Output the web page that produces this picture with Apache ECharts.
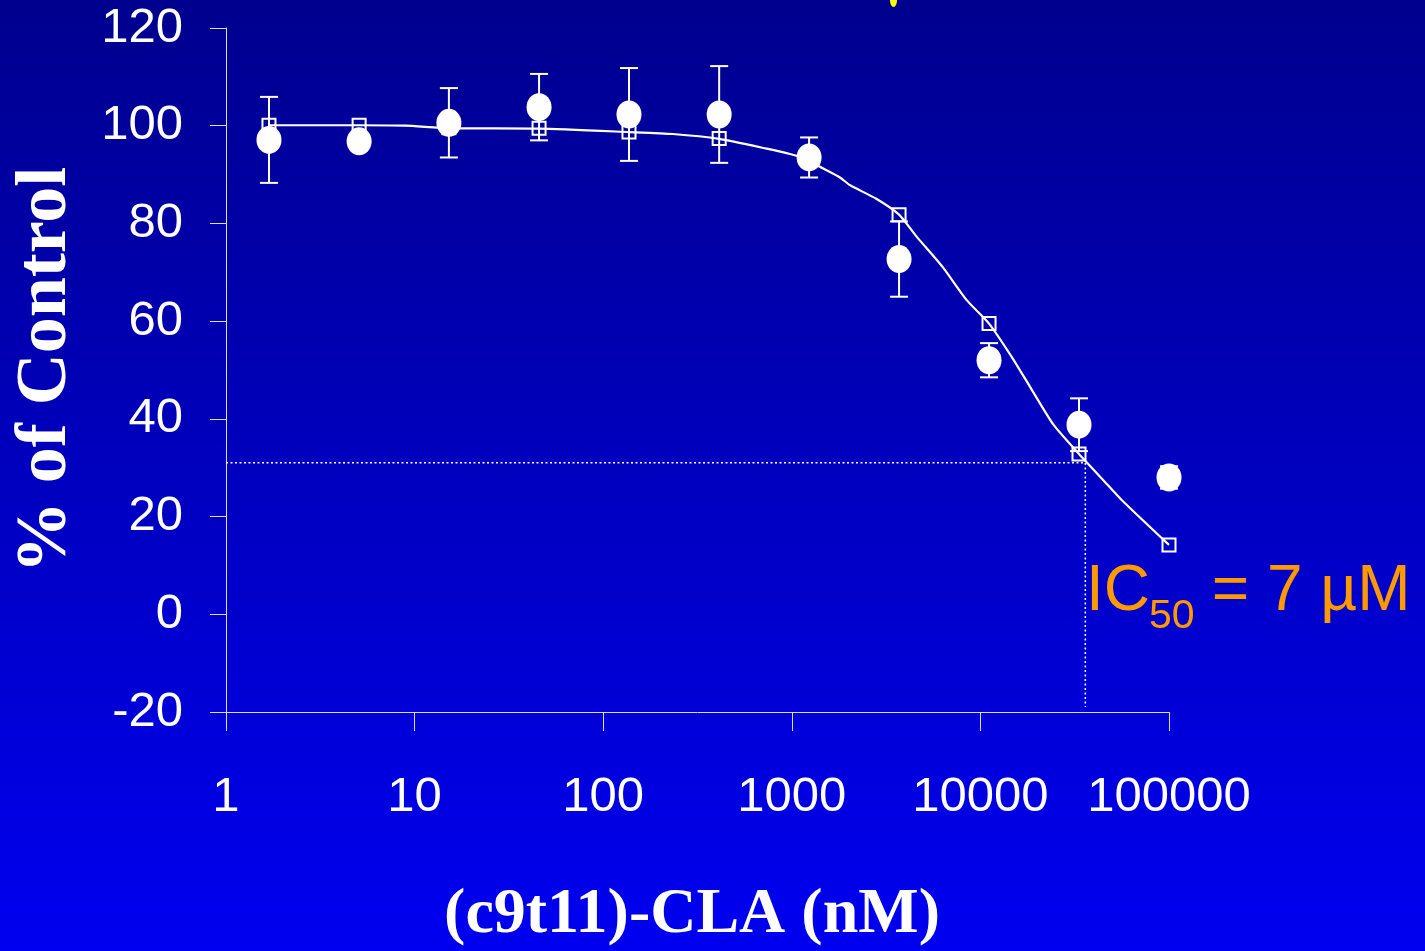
<!DOCTYPE html>
<html>
<head>
<meta charset="utf-8">
<script src="https://cdn.jsdelivr.net/npm/echarts@6/dist/echarts.min.js"></script>
<style>
  html, body { margin: 0; padding: 0; background: #0000C0; }
  #chart { width: 1425px; height: 951px; }
</style>
</head>
<body>
<div id="chart"></div>
<script>
// ---- data ----
const conc      = [1.69, 5.08, 15.2, 45.7, 137, 412, 1235, 3704, 11111, 33333, 100000];   // nM
const meanPct   = [97.1, 96.8, 100.6, 103.8, 102.3, 102.3, 93.5, 72.7, 52.0, 38.8, 28.0];
const errPct    = [8.8, 1.0, 7.1, 6.8, 9.5, 9.9, 4.1, 7.7, 3.5, 5.4, 2.3];
const fitAtConc = [100.1, 100.1, 99.6, 99.5, 98.7, 97.4, 93.0, 81.8, 59.5, 32.8, 14.2];
const curveX    = [1.69, 5.08, 8.9, 15.2, 45.7, 137, 234, 412, 736, 978, 1235, 1410, 1800, 2040, 2790, 3704, 4590, 6330, 8460, 11111, 14650, 18300, 24400, 33333, 44700, 56100, 100000];
const curveY    = [100.1, 100.1, 100.0, 99.5, 99.4, 98.7, 98.3, 97.3, 95.3, 94.2, 93.0, 91.6, 89.4, 87.8, 85.1, 81.8, 77.3, 71.0, 64.3, 59.5, 52.7, 46.6, 38.8, 32.8, 27.5, 23.4, 14.2];
const refX = 36000;      // dotted guide, x (nM)
const refY = 31.0;       // dotted guide, y (%)
const refBottom = -19;
const xTicks = ['1', '10', '100', '1000', '10000', '100000'];
const yMin = -20, yMax = 120, yStep = 20;
const xTitle = '(c9t11)-CLA (nM)';
const yTitle = '% of Control';

const chart = echarts.init(document.getElementById('chart'));

const circles = conc.map((c, i) => [c, meanPct[i]]);
const squares = conc.map((c, i) => [c, fitAtConc[i]]);
const curve = curveX.map((c, i) => [c, curveY[i]]);
const bars = conc.map((c, i) => [c, meanPct[i] - errPct[i], meanPct[i] + errPct[i]]);
const guide = [[1, refY], [refX, refY], [refX, refBottom]];

const axisColor = '#dcdcf4';
const sansFont = 'Liberation Sans';
const serifFont = 'Liberation Serif';

const option = {
  backgroundColor: {
    type: 'linear', x: 0, y: 0, x2: 0, y2: 1,
    colorStops: [
      { offset: 0, color: '#00008E' },
      { offset: 1, color: '#0000F0' }
    ]
  },
  animation: false,
  grid: { left: 226, right: 256, top: 28, bottom: 239, containLabel: false, outerBoundsMode: 'none' },
  xAxis: {
    type: 'log',
    logBase: 10,
    min: 1,
    max: 100000,
    interval: 1,
    axisLine: { onZero: false, lineStyle: { color: axisColor, width: 1 } },
    axisTick: { show: true, inside: false, length: 19, lineStyle: { color: axisColor, width: 1 } },
    splitLine: { show: false },
    axisLabel: {
      color: '#ffffff', fontFamily: sansFont, fontSize: 49, margin: 61,
      showMinLabel: true, showMaxLabel: true,
      formatter: function (v) {
        const k = Math.round(Math.log10(v));
        return xTicks[k] !== undefined ? xTicks[k] : String(Math.round(v));
      }
    }
  },
  yAxis: {
    type: 'value',
    min: yMin, max: yMax, interval: yStep,
    axisLine: { show: true, onZero: false, lineStyle: { color: axisColor, width: 1 } },
    axisTick: { show: true, inside: false, length: 16, lineStyle: { color: axisColor, width: 1 } },
    splitLine: { show: false },
    axisLabel: { color: '#ffffff', fontFamily: sansFont, fontSize: 49, margin: 43 }
  },
  series: [
    {
      name: 'guide', type: 'line', data: guide, symbol: 'none', silent: true, z: 1,
      lineStyle: { color: '#ffffff', width: 1.5, type: [2, 2.5] }
    },
    {
      name: 'fit', type: 'line', data: curve, symbol: 'none', smooth: 0.2, z: 2,
      lineStyle: { color: '#ffffff', width: 2.2 }
    },
    {
      name: 'fit points', type: 'scatter', data: squares, symbol: 'rect', symbolSize: 13, z: 3,
      itemStyle: { color: 'rgba(0,0,0,0)', borderColor: '#ffffff', borderWidth: 2, opacity: 1 }
    },
    {
      name: 'error', type: 'custom', data: bars, z: 4,
      encode: { x: 0, y: [1, 2] },
      renderItem: function (params, api) {
        const x = api.value(0);
        const lo = api.coord([x, api.value(1)]);
        const hi = api.coord([x, api.value(2)]);
        const hw = 9;
        const st = { stroke: '#ffffff', lineWidth: 2 };
        return {
          type: 'group',
          children: [
            { type: 'line', shape: { x1: lo[0], y1: lo[1], x2: hi[0], y2: hi[1] }, style: st },
            { type: 'line', shape: { x1: lo[0] - hw, y1: lo[1], x2: lo[0] + hw, y2: lo[1] }, style: st },
            { type: 'line', shape: { x1: hi[0] - hw, y1: hi[1], x2: hi[0] + hw, y2: hi[1] }, style: st }
          ]
        };
      }
    },
    {
      name: 'measured', type: 'scatter', data: circles, symbol: 'circle', symbolSize: [25, 28], z: 5,
      itemStyle: { color: '#ffffff', opacity: 1 }
    }
  ],
  graphic: [
    {
      type: 'text', x: 46, y: 370, rotation: Math.PI / 2,
      style: { text: yTitle, fill: '#ffffff', font: 'bold 72px "' + serifFont + '"', align: 'center', verticalAlign: 'middle' }
    },
    {
      type: 'text', x: 692, y: 915,
      style: { text: xTitle, fill: '#ffffff', font: 'bold 64px "' + serifFont + '"', align: 'center', verticalAlign: 'middle' }
    },
    {
      type: 'text', x: 1086, y: 592,
      style: { text: 'IC', fill: '#FF9900', font: '64px "' + sansFont + '"', align: 'left', verticalAlign: 'middle' }
    },
    {
      type: 'text', x: 1149, y: 617,
      style: { text: '50', fill: '#FF9900', font: '41px "' + sansFont + '"', align: 'left', verticalAlign: 'middle' }
    },
    {
      type: 'text', x: 1194, y: 592,
      style: { text: ' = 7 µM', fill: '#FF9900', font: '64px "' + sansFont + '"', align: 'left', verticalAlign: 'middle' }
    },
    {
      type: 'ellipse', shape: { cx: 893.5, cy: 0, rx: 3.5, ry: 7 },
      style: { fill: '#FFFF00' }
    }
  ]
};

chart.setOption(option);
</script>
</body>
</html>
